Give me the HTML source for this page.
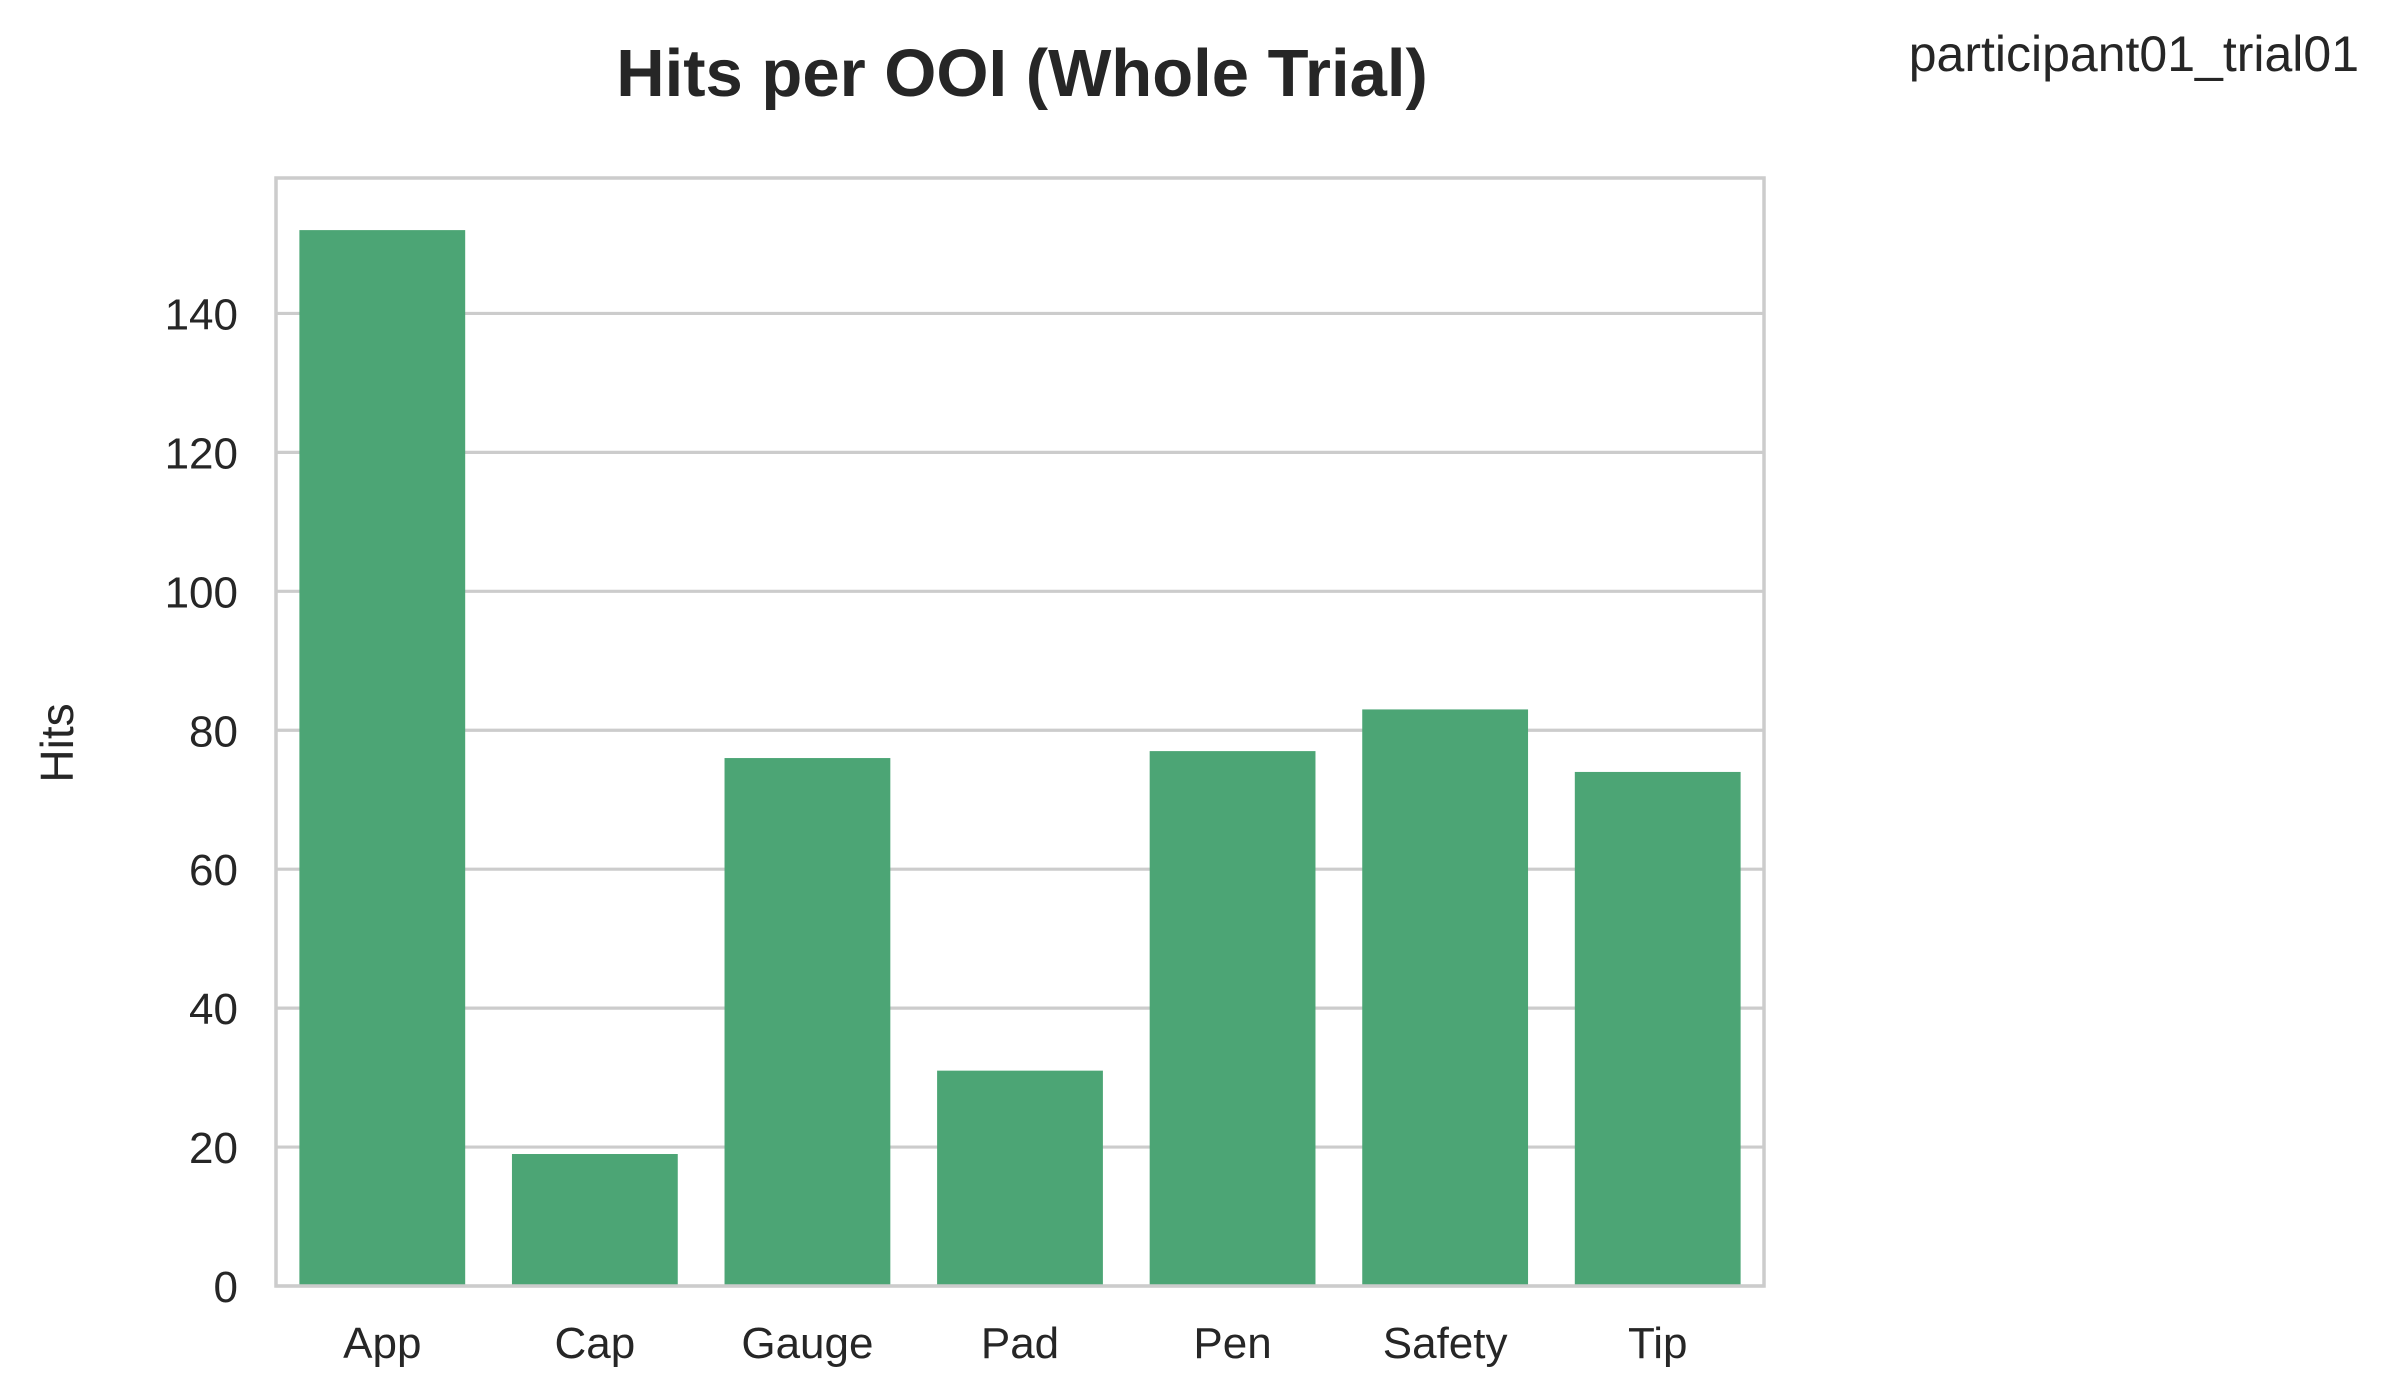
<!DOCTYPE html>
<html><head><meta charset="utf-8"><style>
body{margin:0;background:#fff;}
svg{display:block;font-family:"Liberation Sans",Arial,sans-serif;}
</style></head><body>
<svg width="2391" height="1397" viewBox="0 0 2391 1397">
<rect width="2391" height="1397" fill="#fff"/>
<g id="grid"></g><g id="bars"></g><g id="yticks"></g><g id="xticks"></g>
<rect x="276" y="178" width="1488" height="1108" fill="none" stroke="#cccccc" stroke-width="3.5"/>
<text x="1022" y="96" text-anchor="middle" font-size="67" font-weight="bold" fill="#262626">Hits per OOI (Whole Trial)</text>
<text x="2359" y="71" text-anchor="end" font-size="50" fill="#262626">participant01_trial01</text>
<text transform="translate(73,743) rotate(-90)" text-anchor="middle" font-size="46" fill="#262626">Hits</text>
</svg>
<script>
const categories=["App","Cap","Gauge","Pad","Pen","Safety","Tip"];
const hits=[152,19,76,31,77,83,74];
const yTicks=[0,20,40,60,80,100,120,140];
const L=276,R=1764,T=178,B=1286,yMax=159.5;
const ns="http://www.w3.org/2000/svg";
function y(v){return B-(v/yMax)*(B-T);}
const step=(R-L)/categories.length;
function xc(i){return L+step*(i+0.5);}
function mk(t,a,p){const e=document.createElementNS(ns,t);for(const k in a)e.setAttribute(k,a[k]);p.appendChild(e);return e;}
const g=document.getElementById('grid'),b=document.getElementById('bars'),yt=document.getElementById('yticks'),xt=document.getElementById('xticks');
yTicks.forEach(v=>{
 const l=mk('line',{x1:L,x2:R,y1:y(v),y2:y(v),stroke:'#cccccc','stroke-width':3.2},g);
 
 
 const t=mk('text',{x:L-38,y:y(v)+16,'text-anchor':'end','font-size':44,fill:'#262626'},yt);
 t.textContent=v;
 
 
});
categories.forEach((c,i)=>{
 const w=step*0.78;
 const r=mk('rect',{x:xc(i)-w/2,y:y(hits[i]),width:w,height:B-y(hits[i]),fill:'#4ca575'},b);
 
 
 const t=mk('text',{x:xc(i),y:1358,'text-anchor':'middle','font-size':44,fill:'#262626'},xt);
 t.textContent=c;
 
 
});
</script>
</body></html>
